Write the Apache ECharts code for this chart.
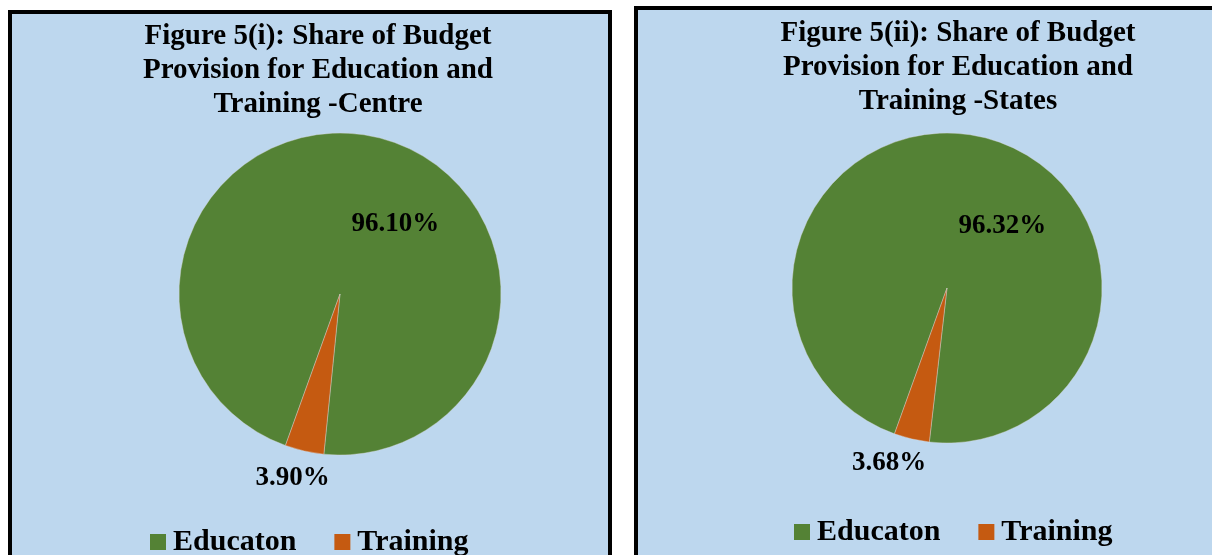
<!DOCTYPE html>
<html>
<head>
<meta charset="utf-8">
<script src="https://cdn.jsdelivr.net/npm/echarts@6/dist/echarts.min.js"></script>
<style>
  html, body { margin: 0; padding: 0; background: #ffffff; overflow: hidden; }
  #chart { width: 1212px; height: 555px; }
</style>
</head>
<body>
<div id="chart"></div>
<script>
// ---- data ----
const categories = ['Educaton', 'Training'];
const centreShares = [96.10, 3.90];
const stateShares = [96.32, 3.68];
const centreTitle = 'Figure 5(i): Share of Budget\nProvision for Education and\nTraining -Centre';
const stateTitle = 'Figure 5(ii): Share of Budget\nProvision for Education and\nTraining -States';

// ---- styles ----
const FONT = '"Liberation Serif", "Times New Roman", serif';
const PANEL_BG = '#BDD7EE';
const COLORS = ['#548235', '#C55A11'];

const chart = echarts.init(document.getElementById('chart'), null, { renderer: 'canvas' });

function pieData(values) {
  return categories.map((name, i) => ({ name: name, value: values[i] }));
}

// label offsets relative to ECharts' 'inside' anchor (per slice)
function makeLabelLayout(offsets) {
  return function (params) {
    const o = offsets[params.dataIndex];
    return { dx: o[0], dy: o[1], hideOverlap: false };
  };
}

function pieSeries(values, center, radius, offsets) {
  return {
    type: 'pie',
    center: center,
    radius: radius,
    startAngle: 250.2,
    clockwise: true,
    silent: true,
    animation: false,
    avoidLabelOverlap: false,
    data: pieData(values),
    itemStyle: { borderWidth: 0.4, borderColor: '#d9d9d9' },
    label: {
      show: true,
      position: 'inside',
      formatter: p => p.value.toFixed(2) + '%',
      color: '#000',
      fontFamily: FONT,
      fontWeight: 'bold',
      fontSize: 27
    },
    labelLine: { show: false },
    labelLayout: makeLabelLayout(offsets)
  };
}

function legendFor(left, top) {
  return {
    data: categories,
    left: left,
    top: top,
    padding: 0,
    orient: 'horizontal',
    icon: 'rect',
    itemWidth: 16,
    itemHeight: 16,
    itemGap: 38,
    selectedMode: false,
    itemStyle: { borderWidth: 0 },
    textStyle: {
      color: '#000',
      fontFamily: FONT,
      fontWeight: 'bold',
      fontSize: 30,
      padding: [0, 0, 0, 2]
    }
  };
}

function titleFor(text, x, y) {
  return {
    text: text,
    left: x,
    top: y,
    padding: 0,
    textAlign: 'center',
    textVerticalAlign: 'top',
    textStyle: {
      color: '#000',
      fontFamily: FONT,
      fontWeight: 'bold',
      fontSize: 29,
      lineHeight: 34
    }
  };
}

chart.setOption({
  backgroundColor: '#ffffff',
  color: COLORS,
  animation: false,
  graphic: [
    {
      type: 'rect', z: 0, silent: true,
      shape: { x: 10, y: 12, width: 600, height: 620 },
      style: { fill: PANEL_BG, stroke: '#000', lineWidth: 4 }
    },
    {
      type: 'rect', z: 0, silent: true,
      shape: { x: 636, y: 8, width: 700, height: 620 },
      style: { fill: PANEL_BG, stroke: '#000', lineWidth: 4 }
    }
  ],
  title: [
    titleFor(centreTitle, 318, 20),
    titleFor(stateTitle, 958, 17)
  ],
  legend: [
    legendFor(150, 527),
    legendFor(794, 517)
  ],
  series: [
    pieSeries(centreShares, [340, 294], 161, [[37, 11], [-29, 103]]),
    pieSeries(stateShares, [947, 288], 155, [[37, 16], [-39.5, 97]])
  ]
});
</script>
</body>
</html>
